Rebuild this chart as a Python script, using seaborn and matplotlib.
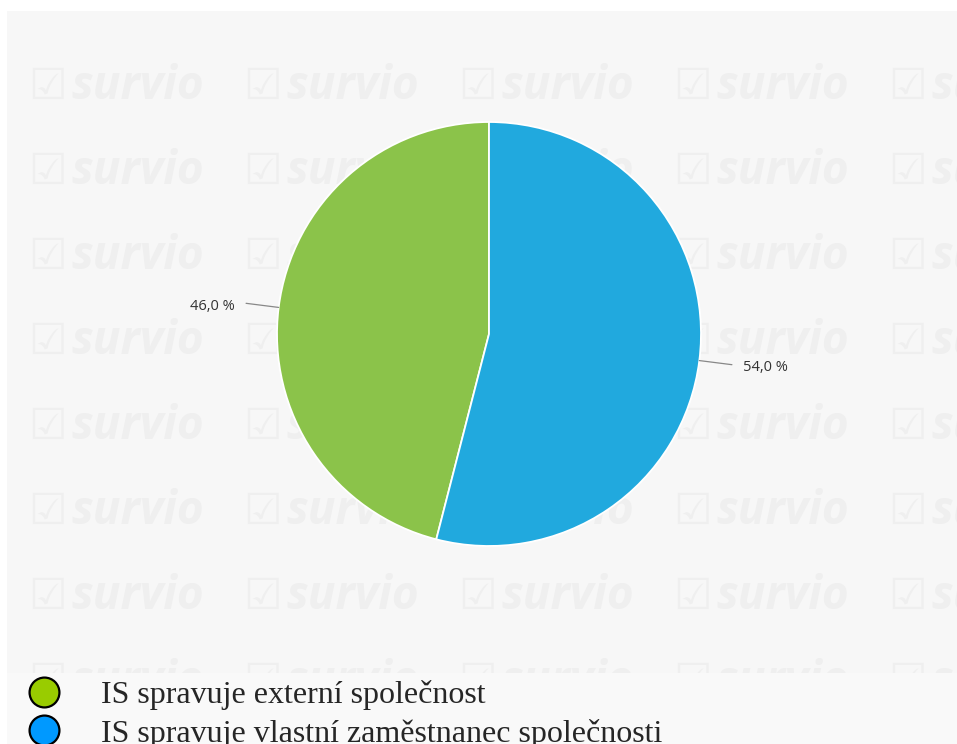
import matplotlib
matplotlib.use("Agg")
import matplotlib.pyplot as plt
from matplotlib.lines import Line2D
from matplotlib.patches import Rectangle
import numpy as np
import seaborn as sns

categories = ["IS spravuje externí společnost", "IS spravuje vlastní zaměstnanec společnosti"]
values = [46.0, 54.0]
pie_colors = ["#8bc34a", "#21a9de"]
legend_colors = ["#99cc00", "#0099ff"]
value_labels = ["46,0 %", "54,0 %"]

sns.set_theme(style="white")
plt.rcParams["font.family"] = ["Open Sans", "DejaVu Sans"]

W, H = 957, 744
fig = plt.figure(figsize=(W / 100, H / 100), dpi=100)
fig.patch.set_facecolor("white")

# light background behind the legend area
fig.patches.append(Rectangle((7 / W, 0), 1, (H - 673) / H, transform=fig.transFigure,
                             facecolor="#f9f9f9", edgecolor="none", zorder=-1))

# panel in pixel coordinates (y measured from the bottom)
px0, py_top, py_bot = 7, 11, 673
ax = fig.add_axes([px0 / W, (H - py_bot) / H, (W - px0) / W, (py_bot - py_top) / H])
ax.set_facecolor("#f7f7f7")

# watermark
wm_color = "#efefef"
for r in range(8):
    yb = H - (99 + 85 * r)
    for c in range(5):
        xs = 28 + 215 * c
        ax.text(xs, yb, "☑", fontsize=31, color=wm_color, family=["DejaVu Sans"],
                ha="left", va="baseline", clip_on=True, zorder=0)
        ax.text(xs + 43, yb, "survio", fontsize=33, color=wm_color, style="italic",
                weight="bold", family=["Open Sans", "DejaVu Sans"], ha="left",
                va="baseline", clip_on=True, zorder=0)

cx, cy, R = 489, H - 334, 212
wedges, _ = ax.pie(values, colors=pie_colors, startangle=90, counterclock=True,
                   center=(cx, cy), radius=R, frame=True,
                   wedgeprops=dict(edgecolor="white", linewidth=1.3))

for w, lab in zip(wedges, value_labels):
    ang = np.deg2rad((w.theta1 + w.theta2) / 2)
    x0, y0 = cx + R * np.cos(ang), cy + R * np.sin(ang)
    x1, y1 = cx + R * 1.155 * np.cos(ang), cy + R * 1.155 * np.sin(ang)
    ax.plot([x0, x1], [y0, y1], color="#888888", lw=0.9, zorder=3)
    side = 1 if np.cos(ang) > 0 else -1
    ax.text(x1 + side * 11, y1 - 3, lab, fontsize=10.5, color="#333333",
            ha="left" if side > 0 else "right", va="center")

ax.set_xlim(px0, W)
ax.set_ylim(H - py_bot, H - py_top)
ax.set_aspect("auto")
ax.set_xticks([])
ax.set_yticks([])
for s in ax.spines.values():
    s.set_visible(False)

handles = [Line2D([0], [0], marker="o", linestyle="none", markersize=21.5,
                  markerfacecolor=c, markeredgecolor="black", markeredgewidth=1.6)
           for c in legend_colors]
fig.legend(handles, categories, loc="upper left", bbox_to_anchor=(20 / W, 1 - 680 / H),
           frameon=False, prop={"family": "Liberation Serif", "size": 23},
           handletextpad=1.05, labelspacing=0.27, borderaxespad=0, borderpad=0,
           handlelength=1.5)

fig.savefig("out.png", dpi=100, facecolor="white")
